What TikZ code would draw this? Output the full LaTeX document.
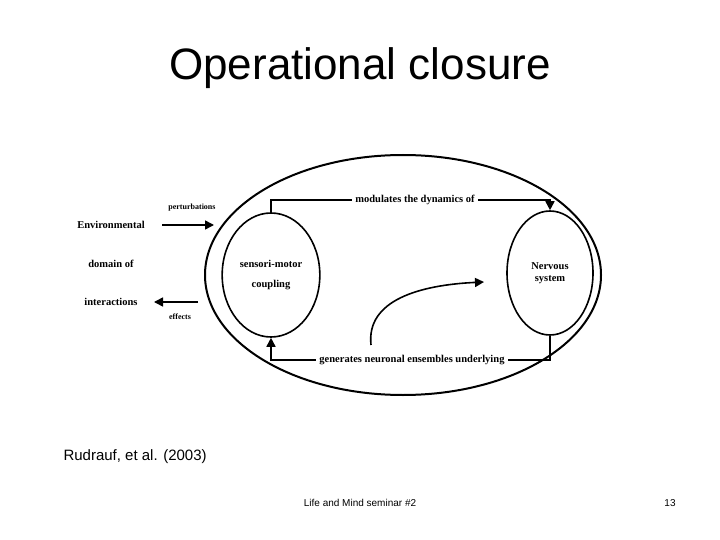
\documentclass[tikz,border=0pt]{standalone}
\usepackage{fontspec}
\setmainfont{Liberation Serif}
\newfontfamily\slidefont{Liberation Sans}
\usetikzlibrary{arrows.meta,shapes.geometric}
\tikzset{
  lbl/.style={font=\bfseries\fontsize{10.5}{12}\selectfont},
  flow/.style={line width=1.6pt},
  tip/.style={-{Triangle[length=9pt,width=9pt]}},
}
\begin{document}
\begin{tikzpicture}[x=1pt,y=-1pt]
\useasboundingbox (0,0) rectangle (720,540);
\node[font=\slidefont\fontsize{44}{48}\selectfont] (title) at (360,68) {Operational closure};
% closure
\node[draw,ellipse,line width=2pt,minimum width=396pt,minimum height=240pt] (outer) at (403,275) {};
\node[draw,ellipse,line width=1.6pt,minimum width=88pt,minimum height=124pt,lbl,align=center] (sm) at (271,275) {sensori-motor\\[8pt]coupling};
\node[draw,ellipse,line width=1.6pt,minimum width=86pt,minimum height=124pt,lbl,align=center] (ns) at (550,273) {Nervous\\system};
\coordinate (a1) at (271,200);
\coordinate (a2) at (550,200);
\coordinate (b1) at (550,360);
\coordinate (b2) at (271,360);
\draw[flow,tip] (sm.north) -- (a1) -- (a2) -- (ns.north);
\draw[flow,tip] (ns.south) -- (b1) -- (b2) -- (sm.south);
\node[lbl,fill=white] (mod) at (415,200) {modulates the dynamics of};
\node[lbl,fill=white] (gen) at (412,360) {generates neuronal ensembles underlying};
\coordinate (c1) at (371,345);
\coordinate (c2) at (484,282);
\draw[flow,tip] (c1) .. controls (366,300) and (420,285) .. (c2);
% environment
\node[lbl] (env) at (111,225) {Environmental};
\node[lbl] (dom) at (111,264) {domain of};
\node[lbl] (inter) at (111,302) {interactions};
\coordinate (p0) at (162,225);
\coordinate (p1) at (214,225);
\coordinate (e0) at (198,302);
\coordinate (e1) at (154,302);
\draw[flow,tip] (p0) -- (p1);
\draw[flow,tip] (e0) -- (e1);
\node[font=\bfseries\fontsize{8}{9}\selectfont] (pert) at (192,208) {perturbations};
\node[font=\bfseries\fontsize{8}{9}\selectfont] (eff) at (180,317) {effects};
% footer
\node[anchor=west,font=\slidefont\fontsize{15}{17}\selectfont] (ref) at (60,457) {Rudrauf, et al. (2003)};
\node[font=\slidefont\fontsize{10}{12}\selectfont] (sem) at (360,503) {Life and Mind seminar \#2};
\node[font=\slidefont\fontsize{10}{12}\selectfont] (num) at (670,503) {13};
\end{tikzpicture}
\end{document}
